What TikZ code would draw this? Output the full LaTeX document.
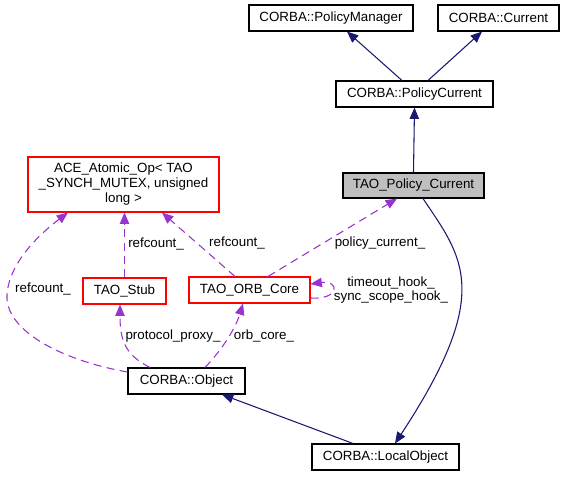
\documentclass[tikz,border=0pt]{standalone}
\usepackage{fontspec}
\setmainfont{Liberation Sans}
\usetikzlibrary{arrows.meta,calc}
\definecolor{edgeblue}{HTML}{191970}
\definecolor{edgepurple}{HTML}{9A32CD}
\definecolor{boxgray}{HTML}{BFBFBF}
\newcommand\pxu{0.75pt}
\begin{document}
\begin{tikzpicture}[x=0.75pt,y=-0.75pt,
  cls/.style={draw=black, line width=0.8pt, fill=white, inner sep=0pt,
    minimum height={26*\pxu}, font=\fontsize{10}{11.25}\selectfont, align=center},
  redcls/.style={cls, draw=red},
  inh/.style={draw=edgeblue, line width=0.8pt, -{Triangle[length=8.5pt,width=7pt]}},
  use/.style={draw=edgepurple, line width=0.8pt, dash pattern=on 6pt off 4pt,
    -{Triangle[length=8.5pt,width=7pt]}},
  lbl/.style={font=\fontsize{10}{10.5}\selectfont, inner sep=0pt, align=center}]
\useasboundingbox (0,0) rectangle (565,476);

\node[cls, minimum width={164*\pxu}] (pm) at (331,18) {CORBA::PolicyManager};
\node[cls, minimum width={121*\pxu}] (cur) at (498.5,18) {CORBA::Current};
\node[cls, minimum width={157*\pxu}] (pc) at (414.5,94) {CORBA::PolicyCurrent};
\node[cls, fill=boxgray, minimum width={141*\pxu}, minimum height={25*\pxu}] (tpc) at (413.5,185.5) {TAO\_Policy\_Current};
\node[redcls, minimum width={191*\pxu}, minimum height={55*\pxu}] (ace) at (123.5,184.5) {ACE\_Atomic\_Op< TAO\\\_SYNCH\_MUTEX, unsigned\\long >};
\node[redcls, minimum width={83*\pxu}] (stub) at (124.5,291) {TAO\_Stub};
\node[redcls, minimum width={121*\pxu}] (orb) at (249.5,290) {TAO\_ORB\_Core};
\node[cls, minimum width={117*\pxu}] (obj) at (186.5,381) {CORBA::Object};
\node[cls, minimum width={147*\pxu}] (lo) at (385.5,457) {CORBA::LocalObject};

% inheritance
\draw[inh] ($(pc.north)+(-12.5,0)$) -- ($(pm.south)+(16,0)$);
\draw[inh] ($(pc.north)+(13.5,0)$) -- ($(cur.south)+(-16.5,0)$);
\draw[inh] (tpc.north) -- (pc.south);
\draw[inh] ($(lo.north)+(-32.5,0)$) -- ($(obj.south)+(35.5,0)$);
\draw[inh] ($(tpc.south)+(9.5,0)$) .. controls (463,258) and (494,293) .. ($(lo.north)+(9.5,0)$);

% usage
\draw[use] (stub.north) -- (stub.north |- ace.south);
\node[lbl, anchor=west] (l1) at (128,244) {refcount\_};
\draw[use] ($(orb.north)+(-14.5,0)$) -- ($(ace.south)+(38.5,0)$);
\node[lbl] (l2) at (237,243) {refcount\_};
\draw[use] ($(orb.north)+(18.5,0)$) -- ($(tpc.south)+(-16.5,0)$);
\node[lbl] (l3) at (380,243) {policy\_current\_};
\draw[use] ($(orb.east)+(0,8)$) .. controls (340,300) and (340,280) .. ($(orb.east)+(0,-6)$);
\node[lbl] (l4) at (391,290) {timeout\_hook\_\\sync\_scope\_hook\_};
\draw[use] ($(obj.west)+(0,-9)$) .. controls (60,360) and (5,330) .. (7,295)
  .. controls (9,260) and (45,230) .. ($(ace.south)+(-55.5,0)$);
\node[lbl] (l5) at (43,289) {refcount\_};
\draw[use] ($(obj.north)+(-36.5,0)$) .. controls (125,355) and (120,340) .. ($(stub.south)+(-4.5,0)$);
\node[lbl] (l6) at (173,336) {protocol\_proxy\_};
\draw[use] ($(obj.north)+(18.5,0)$) .. controls (220,352) and (235,330) .. ($(orb.south)+(-6.5,0)$);
\node[lbl] (l7) at (264,336) {orb\_core\_};
\end{tikzpicture}
\end{document}
